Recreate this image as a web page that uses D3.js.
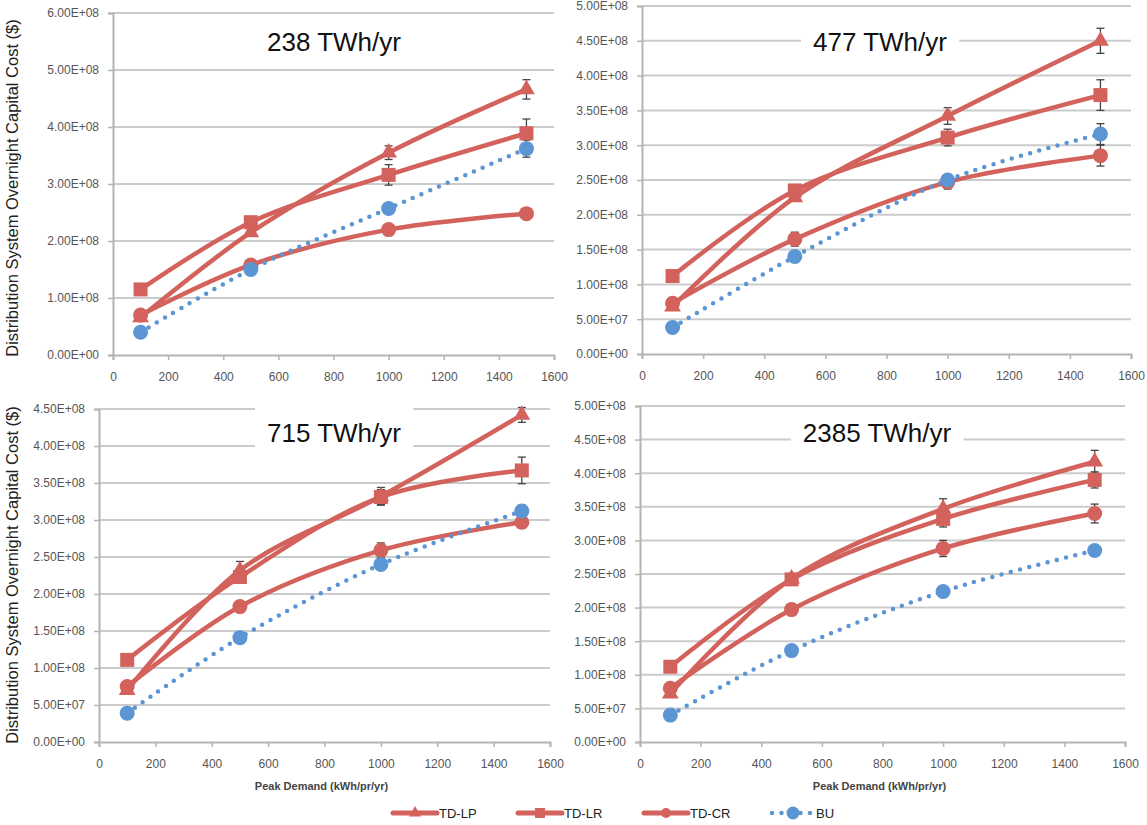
<!DOCTYPE html>
<html><head><meta charset="utf-8">
<script src="https://cdn.jsdelivr.net/npm/d3@7"></script>
<style>
body{margin:0;background:#fff;}
svg{display:block;font-family:"Liberation Sans",Arial,sans-serif;}
</style></head>
<body><svg id="chart" width="1147" height="825"></svg>
<script>
// ---- data ----
const xValues = [100, 500, 1000, 1500];
const xTicks = [0, 200, 400, 600, 800, 1000, 1200, 1400, 1600];
const panelTitles = ["238 TWh/yr", "477 TWh/yr", "715 TWh/yr", "2385 TWh/yr"];
const seriesNames = ["TD-LP", "TD-LR", "TD-CR", "BU"];
const yMaxes = [6e8, 5e8, 4.5e8, 5e8];
const yTickSteps = [1e8, 5e7, 5e7, 5e7];

const tdLP = [
  [6.6e7, 2.15e8, 3.55e8, 4.66e8],
  [6.8e7, 2.25e8, 3.42e8, 4.50e8],
  [7.0e7, 2.32e8, 3.32e8, 4.42e8],
  [7.2e7, 2.43e8, 3.47e8, 4.17e8]
];
const tdLR = [
  [1.15e8, 2.33e8, 3.16e8, 3.89e8],
  [1.12e8, 2.35e8, 3.11e8, 3.72e8],
  [1.11e8, 2.23e8, 3.31e8, 3.67e8],
  [1.12e8, 2.42e8, 3.32e8, 3.90e8]
];
const tdCR = [
  [7.0e7, 1.58e8, 2.20e8, 2.48e8],
  [7.3e7, 1.65e8, 2.47e8, 2.85e8],
  [7.5e7, 1.83e8, 2.59e8, 2.97e8],
  [8.0e7, 1.97e8, 2.88e8, 3.40e8]
];
const bu = [
  [4.0e7, 1.50e8, 2.57e8, 3.62e8],
  [3.8e7, 1.40e8, 2.50e8, 3.16e8],
  [3.9e7, 1.41e8, 2.40e8, 3.12e8],
  [4.0e7, 1.36e8, 2.24e8, 2.85e8]
];
// error bar half-widths
const errLP = [
  [0, 5e6, 1.2e7, 1.7e7],
  [0, 5e6, 1.2e7, 1.8e7],
  [0, 1.2e7, 1.2e7, 1.0e7],
  [0, 6e6, 1.5e7, 1.7e7]
];
const errLR = [
  [0, 4e6, 1.8e7, 2.5e7],
  [0, 5e6, 1.2e7, 2.2e7],
  [0, 5e6, 1.0e7, 1.8e7],
  [0, 6e6, 1.2e7, 1.2e7]
];
const errCR = [
  [0, 3e6, 5e6, 8e6],
  [0, 1.0e7, 1.0e7, 1.5e7],
  [0, 7e6, 1.0e7, 8e6],
  [0, 8e6, 1.2e7, 1.4e7]
];
const errBU = [
  [0, 0, 0, 1.5e7],
  [0, 0, 0, 1.5e7],
  [0, 0, 0, 8e6],
  [0, 0, 0, 0]
];
const yAxisTitle = "Distribution System Overnight Capital Cost ($)";
const xAxisTitle = "Peak Demand (kWh/pr/yr)";

// ---- styling / layout ----
const RED = "#d2625b", BLUE = "#5b95d3";
const seriesStyle = [
  {color: RED, marker: "triangle", dotted: false},
  {color: RED, marker: "square", dotted: false},
  {color: RED, marker: "circle", dotted: false},
  {color: BLUE, marker: "circle", dotted: true}
];
const layout = [
  {l: 113, r: 554, t: 13, b: 355, tx: 334, ty: 42, by0: 18, by1: 66, xTitle: false},
  {l: 642, r: 1131, t: 6, b: 354, tx: 880, ty: 42, by0: 18, by1: 66, xTitle: false},
  {l: 99, r: 550, t: 409, b: 742, tx: 334, ty: 433, by0: 400, by1: 458, xTitle: true},
  {l: 640, r: 1125, t: 406, b: 742, tx: 877, ty: 433, by0: 412, by1: 458, xTitle: true}
];

function fmtE(v) {
  const parts = v.toExponential(2).split("e");
  const e = parseInt(parts[1], 10);
  const s = e < 0 ? "-" : "+";
  return parts[0] + "E" + s + String(Math.abs(e)).padStart(2, "0");
}

const svg = d3.select("#chart");
const allSeries = [tdLP, tdLR, tdCR, bu];
const allErr = [errLP, errLR, errCR, errBU];

function drawMarker(g, type, x, y, color, size) {
  if (type === "triangle") {
    g.append("path").attr("d", d3.symbol(d3.symbolTriangle, size * size * 0.62)())
      .attr("transform", `translate(${x},${y})`).attr("fill", color);
  } else if (type === "square") {
    g.append("rect").attr("x", x - size / 2).attr("y", y - size / 2)
      .attr("width", size).attr("height", size).attr("fill", color);
  } else {
    g.append("circle").attr("cx", x).attr("cy", y).attr("r", size / 2).attr("fill", color);
  }
}

layout.forEach((L, p) => {
  const g = svg.append("g");
  const x = d3.scaleLinear().domain([0, 1600]).range([L.l, L.r]);
  const y = d3.scaleLinear().domain([0, yMaxes[p]]).range([L.b, L.t]);
  const yTicks = d3.range(0, yMaxes[p] + 1, yTickSteps[p]);

  // gridlines
  g.append("g").selectAll("line").data(yTicks.filter(d => d > 0)).join("line")
    .attr("x1", L.l).attr("x2", L.r).attr("y1", d => y(d)).attr("y2", d => y(d))
    .attr("stroke", "#cbcbcb").attr("stroke-width", 2);

  // title box
  g.append("text").attr("class", "ttl").attr("x", L.tx).attr("y", L.ty + 9)
    .attr("text-anchor", "middle").attr("font-size", 26).attr("fill", "#111")
    .text(panelTitles[p]);
  const tnode = g.select("text.ttl").node();
  const bb = tnode.getBBox();
  g.insert("rect", "text.ttl").attr("x", bb.x - 12).attr("width", bb.width + 24)
    .attr("y", L.by0).attr("height", L.by1 - L.by0).attr("fill", "#fff");

  // axes
  const ya = g.append("g").attr("transform", `translate(${L.l},0)`)
    .call(d3.axisLeft(y).tickValues(yTicks).tickFormat(fmtE).tickSize(5).tickPadding(9));
  const xa = g.append("g").attr("transform", `translate(0,${L.b})`)
    .call(d3.axisBottom(x).tickValues(xTicks).tickFormat(d3.format("d")).tickSize(5).tickPadding(12));
  [ya, xa].forEach(a => {
    a.select(".domain").attr("stroke", "#b4b4b4").attr("stroke-width", 2);
    a.selectAll(".tick line").attr("stroke", "#b4b4b4").attr("stroke-width", 1.5);
    a.selectAll(".tick text").attr("fill", "#555").attr("font-size", 12)
      .attr("font-family", "'Liberation Sans', Arial, sans-serif");
  });

  // lines
  const lineGen = d3.line().x((d, i) => x(xValues[i])).y(d => y(d)).curve(d3.curveCatmullRom.alpha(0.5));
  const plot = g.append("g");
  allSeries.forEach((S, s) => {
    const st = seriesStyle[s];
    plot.append("path").datum(S[p]).attr("d", lineGen)
      .attr("fill", "none").attr("stroke", st.color)
      .attr("stroke-width", 4.5)
      .attr("stroke-linecap", "round")
      .attr("stroke-dasharray", st.dotted ? "0 9.5" : null);
  });
  // error bars
  allSeries.forEach((S, s) => {
    S[p].forEach((v, i) => {
      const e = allErr[s][p][i];
      if (!e) return;
      const cx = x(xValues[i]);
      plot.append("line").attr("x1", cx).attr("x2", cx).attr("y1", y(v - e)).attr("y2", y(v + e))
        .attr("stroke", "#444").attr("stroke-width", 1.3);
      [v - e, v + e].forEach(t => plot.append("line").attr("x1", cx - 4).attr("x2", cx + 4)
        .attr("y1", y(t)).attr("y2", y(t)).attr("stroke", "#444").attr("stroke-width", 1.3));
    });
  });
  // markers
  allSeries.forEach((S, s) => {
    const st = seriesStyle[s];
    S[p].forEach((v, i) => drawMarker(plot, st.marker, x(xValues[i]), y(v), st.color,
      st.marker === "circle" ? 15 : 14));
  });

  if (L.xTitle) {
    g.append("text").attr("x", (L.l + L.r) / 2 - 3).attr("y", 790).attr("text-anchor", "middle")
      .attr("font-size", 11).attr("font-weight", "bold").attr("fill", "#444").text(xAxisTitle);
  }
});

// y-axis titles
[188, 575].forEach(cy => {
  svg.append("text").attr("transform", `translate(18,${cy}) rotate(-90)`)
    .attr("text-anchor", "middle").attr("font-size", 16.5).attr("fill", "#222").text(yAxisTitle);
});

// legend
const legendItems = [
  {x0: 393, x1: 437, s: 0},
  {x0: 518, x1: 562, s: 1},
  {x0: 644, x1: 688, s: 2},
  {x0: 772, x1: 814, s: 3}
];
const lg = svg.append("g");
const LY = 813;
legendItems.forEach(it => {
  const st = seriesStyle[it.s];
  lg.append("line").attr("x1", it.x0).attr("x2", it.x1).attr("y1", LY).attr("y2", LY)
    .attr("stroke", st.color).attr("stroke-width", st.dotted ? 4.5 : 5)
    .attr("stroke-linecap", "round").attr("stroke-dasharray", st.dotted ? "0 9.5" : null);
  drawMarker(lg, st.marker, (it.x0 + it.x1) / 2, LY, st.color, st.dotted ? 13 : 10);
  lg.append("text").attr("x", it.x1 + 2).attr("y", LY + 5).attr("font-size", 13)
    .attr("fill", "#222").text(seriesNames[it.s]);
});
</script></body></html>
